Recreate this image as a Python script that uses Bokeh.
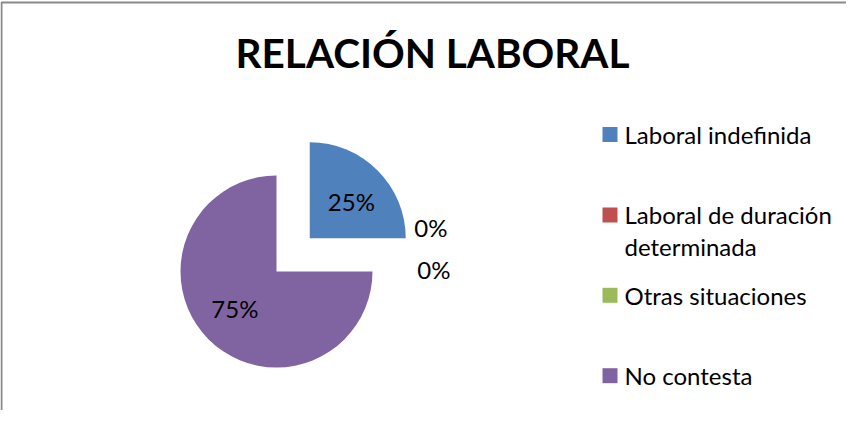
import math
from bokeh.plotting import figure
from bokeh.models import Range1d, ColumnDataSource
from bokeh.core.properties import value
from bokeh.embed import file_html
from bokeh.resources import INLINE

# ---------------- data ----------------
title_text = "RELACIÓN LABORAL"
categories = ["Laboral indefinida", "Laboral de duración determinada",
              "Otras situaciones", "No contesta"]
legend_lines = [["Laboral indefinida"], ["Laboral de duración", "determinada"],
                ["Otras situaciones"], ["No contesta"]]
values = [25, 0, 0, 75]
colors = ["#4F81BD", "#C0504D", "#9BBB59", "#8064A2"]

# ---------------- layout ----------------
W, H = 846, 410
LEFT, TOP = 8, 8            # page margin


def X(xi):                  # image px -> data x
    return xi


def Y(yi):                  # image px -> data y (y up)
    return (TOP + H) - yi


FONT = "Lato"
p = figure(width=W, height=H, x_range=Range1d(LEFT, LEFT + W), y_range=Range1d(0, H),
           output_backend="svg", toolbar_location=None, min_border=0,
           x_axis_type=None, y_axis_type=None, outline_line_color=None,
           background_fill_color="white", border_fill_color="white")
p.grid.visible = False

# chart border (left + top only visible)
p.line(x=[X(9), X(9), X(860)], y=[Y(440), Y(10), Y(10)], line_color="#898989", line_width=2)

# title
p.text(x=[X(440)], y=[Y(60)], text=[title_text], text_font=value(FONT),
       text_font_style="bold", text_font_size="40.5px", text_align="center",
       text_baseline="middle", text_color="black")

# pie
cx, cy, R = X(284), Y(279), 96
explode = [47, 0, 0, 0]
total = float(sum(values))
wx, wy, ws, we, wc = [], [], [], [], []
lx, ly, lt = [], [], []
cum = 0.0
zero_idx = []
for i, v in enumerate(values):
    a0 = math.pi / 2 - 2 * math.pi * cum / total
    a1 = math.pi / 2 - 2 * math.pi * (cum + v) / total
    mid = (a0 + a1) / 2
    ox = cx + explode[i] * math.cos(mid)
    oy = cy + explode[i] * math.sin(mid)
    pct = f"{round(v / total * 100)}%"
    if v > 0:
        wx.append(ox); wy.append(oy); ws.append(a0); we.append(a1); wc.append(colors[i])
        d = 0.58 * R
        lx.append(ox + d * math.cos(mid - 0.06))
        ly.append(oy + d * math.sin(mid - 0.06))
        lt.append(pct)
    else:
        zero_idx.append((i, mid, pct))
    cum += v

# zero-value labels placed outside, stacked to avoid overlap
nz = len(zero_idx)
for k, (i, mid, pct) in enumerate(zero_idx):
    d = 1.64 * R
    shift = (nz - 1 - k) * 42
    lx.append(cx + d * math.cos(mid) - (nz - 1 - k) * 3)
    ly.append(cy + d * math.sin(mid) + shift + 2)
    lt.append(pct)

p.wedge(x="x", y="y", radius=R, start_angle="s", end_angle="e", direction="clock",
        fill_color="c", line_color=None,
        source=ColumnDataSource(dict(x=wx, y=wy, s=ws, e=we, c=wc)))

LBL = 24
p.text(x=lx, y=ly, text=lt, text_font=value(FONT),
       text_font_size=f"{LBL}px", text_align="center", text_baseline="middle",
       text_color="black")

# legend
leg_x, leg_y0, leg_dy, msize = X(617.5), 142, 80.4, 15
txt_x, line_h = X(632), 32
mx, my, tx, ty, tt = [], [], [], [], []
for i, lines in enumerate(legend_lines):
    yc = leg_y0 + i * leg_dy
    mx.append(leg_x); my.append(Y(yc))
    for j, s in enumerate(lines):
        tx.append(txt_x); ty.append(Y(yc + j * line_h)); tt.append(s)
p.rect(x=mx, y=my, width=msize, height=msize, fill_color=colors, line_color=None)
p.text(x=tx, y=ty, text=tt, text_font=value(FONT), text_font_size=f"{LBL}px",
       text_align="left", text_baseline="middle", text_color="black")

open("out.html", "w").write(file_html(p, INLINE))
